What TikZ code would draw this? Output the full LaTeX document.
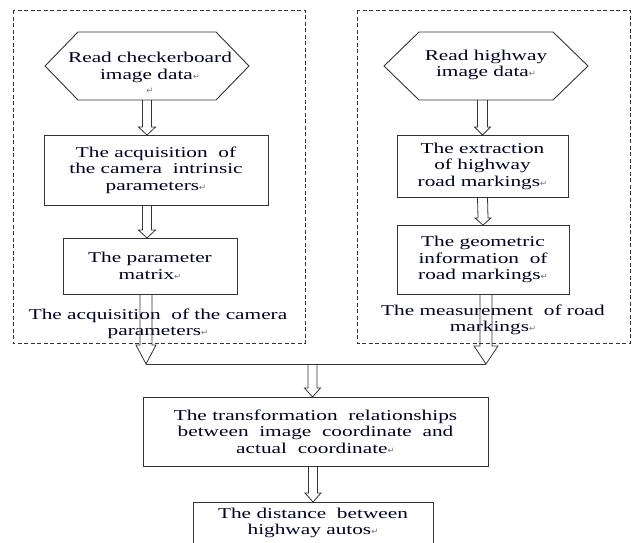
\documentclass[tikz,border=0pt]{standalone}
\usepackage{fontspec}
\setmainfont[FakeStretch=1.42]{Liberation Serif}
\newfontfamily\markfont{DejaVu Sans}
\usetikzlibrary{calc}

\newcommand{\pmark}{{\markfont\fontsize{8.5}{8.5}\selectfont\textcolor{black!55}{↵}}}
% hexagon drawn on the border of a node
\newcommand{\hexframe}[2]{\draw[frame] (#1.west) -- ($(#1.north west)+(#2,0)$) -- ($(#1.north east)+(-#2,0)$) -- (#1.east) -- ($(#1.south east)+(-#2,0)$) -- ($(#1.south west)+(#2,0)$) -- cycle;}
% hollow block arrow: from, to, shaft half width, head half width, head length
\newcommand{\hollowarrow}[5]{\draw[frame, line width=0.8pt] ($(#1)+(-#3,0)$) -- ($(#2)+(-#3,-#5)$) -- ($(#2)+(-#4,-#5)$) -- (#2) -- ($(#2)+(#4,-#5)$) -- ($(#2)+(#3,-#5)$) -- ($(#1)+(#3,0)$);}

\tikzset{
  txt/.style={align=center, font=\fontsize{15}{16.5}\selectfont, text=black!85!blue, inner sep=0pt, outer sep=0pt},
  frame/.style={draw=black!80, line width=0.9pt},
  procbox/.style={txt, frame},
  hexa/.style={inner sep=0pt, outer sep=0pt, minimum height=68pt},
  groupframe/.style={draw=black!80, line width=0.8pt, dash pattern=on 4pt off 2.5pt}
}

\begin{document}
\begin{tikzpicture}[x=1pt, y=-1pt]
    \useasboundingbox (0,0) rectangle (633,542);
    \clip (0,0) rectangle (633,542);

    \draw[groupframe] (13,10) rectangle (305,343);
    \draw[groupframe] (357,10) rectangle (630,343);

    % left branch
    \node[hexa, minimum width=204pt] (lhex) at (147,66) {};
    \hexframe{lhex}{33}
    \node[txt] (lhextext) at (150,73) {Read checkerboard\\image data\pmark\\[-2pt]\pmark};
    \node[procbox, minimum width=224pt, minimum height=70pt] (lbox1) at (156,170) {The acquisition\ \ of\\the camera\ \ intrinsic\\parameters\pmark};
    \node[procbox, minimum width=174pt, minimum height=56pt] (lbox2) at (150,266) {The parameter\\matrix\pmark};
    \node[txt] (lgrouplabel) at (158,324) {The acquisition\ \ of the camera\\parameters\pmark};

    % right branch
    \node[hexa, minimum width=204pt] (rhex) at (486,66) {};
    \hexframe{rhex}{35}
    \node[txt] (rhextext) at (486,65) {Read highway\\image data\pmark};
    \node[procbox, minimum width=171pt, minimum height=62pt] (rbox1) at (482.5,166) {The extraction\\of highway\\road markings\pmark};
    \node[procbox, minimum width=172pt, minimum height=69pt] (rbox2) at (483,259.5) {The geometric\\information\ \ of\\road markings\pmark};
    \node[txt] (rgrouplabel) at (493,320) {The measurement\ \ of road\\markings\pmark};

    % bottom part
    \coordinate (ljoin) at (146,364);
    \coordinate (rjoin) at (486,364);
    \coordinate (mjoin) at (312.5,364);
    \node[procbox, minimum width=345pt, minimum height=69pt] (trans) at (315.5,431.5) {The transformation\ \ relationships\\between\ \ image\ \ coordinate\ \ and\\actual\ \ coordinate\pmark};
    \node[procbox, minimum width=240pt, minimum height=42pt] (final) at (313,523) {The distance\ \ between\\highway autos\pmark};

    \hollowarrow{lhex.south}{lhex.south |- lbox1.north}{4.5}{8.5}{8}
    \hollowarrow{lhex.south |- lbox1.south}{lhex.south |- lbox2.north}{4.5}{8.5}{8}
    \hollowarrow{ljoin |- lbox2.south}{ljoin}{6}{10}{19}
    \hollowarrow{rbox1.north |- rhex.south}{rbox1.north}{5}{8}{8}
    \hollowarrow{rbox1.south}{rbox2.north}{5}{8}{7}
    \hollowarrow{rjoin |- rbox2.south}{rjoin}{6}{12}{18}
    \draw[frame] (ljoin) -- (rjoin);
    \hollowarrow{mjoin}{mjoin |- trans.north}{4.5}{8}{9}
    \hollowarrow{final.north |- trans.south}{final.north}{4.5}{8}{9}
  \end{tikzpicture}
\end{document}
